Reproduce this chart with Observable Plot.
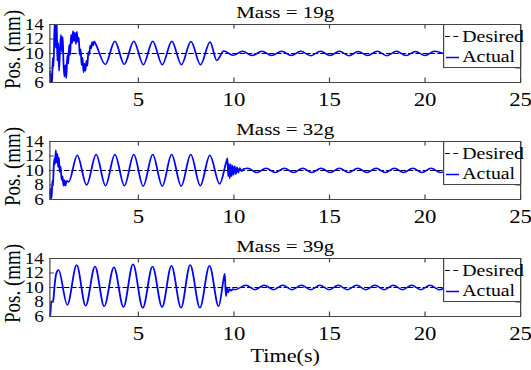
<!DOCTYPE html>
<html><head><meta charset="utf-8">
<script src="https://cdn.jsdelivr.net/npm/d3@7"></script>
<script src="https://cdn.jsdelivr.net/npm/@observablehq/plot@0.6"></script>
<style>
html,body{margin:0;padding:0;background:#fff;}
#chart svg{display:block;}
</style></head><body><div id="chart"></div>
<script>
const titles = ["Mass = 19g", "Mass = 32g", "Mass = 39g"];
const xTicks = [5, 10, 15, 20, 25];
const yTicks = [6, 8, 10, 12, 14];
const legendLabels = ["Desired", "Actual"];
const yLabel = "Pos. (mm)";
const xLabel = "Time(s)";
const desiredTime = [0.37, 21];
const desiredPos = [10, 10];

const time19 = [0.37,0.40,0.44,0.48,0.52,0.56,0.60,0.64,0.68,0.72,0.76,0.80,0.85,0.90,0.95,1.00,1.04,1.08,1.13,1.18,1.23,1.28,1.33,1.38,1.43,1.48,1.53,1.58,1.63,1.68,1.73,1.78,1.83,1.88,1.93,1.98,2.03,2.08,2.13,2.18,2.23,2.28,2.33,2.38,2.43,2.48,2.53,2.58,2.63,2.68,2.75,3.27,3.77,4.26,4.76,5.26,5.75,6.25,6.75,7.25,7.75,8.25,8.75,9.10,9.47,9.95,10.45,10.95,11.47,11.97,12.50,13.00,13.50,14.02,14.53,15.03,15.52,16.02,16.50,17.00,17.50,18.00,18.50,19.00,19.50,20.00,20.50,21.00];
const pos19 = [7.6,5.6,7.2,5.7,9.4,8.2,12.6,14.8,10.8,14.9,9.0,11.5,7.6,10.6,12.6,10.2,12.3,8.8,6.8,8.4,6.6,9.8,8.6,11.2,9.8,12.6,11.4,13.1,11.7,12.9,11.3,13.0,11.6,12.2,9.8,10.6,8.4,9.4,7.4,8.6,7.6,9.0,8.3,10.2,9.8,11.1,10.7,11.6,11.1,11.7,11.4,8.5,11.7,8.5,11.7,8.45,11.7,8.45,11.7,8.45,11.65,8.45,11.6,9.05,10.35,9.75,10.3,9.72,10.32,9.72,10.3,9.72,10.3,9.7,10.3,9.72,10.3,9.7,10.28,9.72,10.3,9.7,10.3,9.72,10.28,9.72,10.3,9.95];

const time32 = [0.37,0.40,0.43,0.46,0.50,0.53,0.57,0.61,0.64,0.68,0.72,0.76,0.80,0.84,0.88,0.93,0.98,1.03,1.08,1.13,1.18,1.25,1.35,1.80,2.29,2.79,3.28,3.77,4.27,4.76,5.25,5.75,6.25,6.74,7.24,7.74,8.24,8.74,9.25,9.60,9.66,9.70,9.74,9.78,9.83,9.88,9.93,9.98,10.04,10.10,10.16,10.23,10.30,10.40,10.50,10.72,11.20,11.68,12.16,12.64,13.12,13.60,14.08,14.56,15.04,15.52,16.00,16.48,16.96,17.44,17.92,18.40,18.88,19.36,19.84,20.32,20.80,21.00];
const pos32 = [7.3,6.0,7.6,6.2,8.6,7.9,10.6,11.7,10.9,12.8,11.1,12.3,10.5,11.8,9.8,10.6,8.7,9.2,7.9,8.7,7.9,8.6,8.4,12.1,8.0,12.2,7.9,12.2,7.9,12.2,7.85,12.2,7.85,12.2,7.85,12.2,7.9,12.1,8.15,11.2,11.7,9.2,10.9,8.9,10.9,9.2,10.7,9.4,10.6,9.5,10.45,9.7,10.35,9.9,10.2,10.3,9.72,10.3,9.72,10.3,9.72,10.3,9.72,10.3,9.72,10.3,9.72,10.3,9.72,10.3,9.72,10.3,9.72,10.3,9.72,10.3,9.72,9.85];

const time39 = [0.37,0.39,0.42,0.45,0.50,0.55,0.62,0.70,0.82,1.28,1.77,2.24,2.73,3.21,3.72,4.22,4.72,5.23,5.74,6.24,6.73,7.23,7.71,8.22,8.72,9.20,9.45,9.52,9.58,9.64,9.70,9.77,9.85,9.95,10.05,10.63,11.10,11.59,12.07,12.55,13.04,13.53,14.02,14.50,14.98,15.46,15.94,16.42,16.90,17.38,17.86,18.34,18.82,19.30,19.78,20.26,20.74,21.00];
const pos39 = [6.3,6.0,7.4,8.1,8.0,8.3,10.4,11.9,12.4,7.6,13.1,7.5,12.9,7.4,12.8,7.3,13.2,7.2,12.9,7.3,13.0,7.2,13.1,7.2,13.0,7.4,11.0,11.9,8.8,10.0,9.3,9.8,9.55,9.8,9.7,10.3,9.7,10.32,9.7,10.3,9.7,10.3,9.7,10.3,9.7,10.3,9.7,10.3,9.7,10.3,9.7,10.3,9.7,10.3,9.7,10.3,9.7,9.9];

const panels = [
  {title: titles[0], time: time19, pos: pos19},
  {title: titles[1], time: time32, pos: pos32},
  {title: titles[2], time: time39, pos: pos39}
];

const SX = 1.2;                 // the source figure is stretched horizontally
const W = 531, innerW = W / SX;
const mL = 49.3 / SX, mR = 11 / SX;
const plotW = innerW - mL - mR;
const plotH = 58;
const serif = "'Liberation Serif', 'Times New Roman', serif";
const axisColor = "#444";
const blue = "#0000ff";
const chart = document.getElementById("chart");

panels.forEach((p, i) => {
  const last = i === panels.length - 1;
  const H = last ? 136 : 117;
  const actual = p.time.map((t, j) => ({t, v: p.pos[j]}));
  const desired = desiredTime.map((t, j) => ({t, v: desiredPos[j]}));
  const top = [yTicks[yTicks.length - 1]];
  const marks = [
    Plot.line(desired, {x: "t", y: "v", stroke: "black", strokeWidth: 1.2, strokeDasharray: "3.5,2.6"}),
    Plot.line(actual, {x: "t", y: "v", stroke: blue, strokeWidth: 1.5, curve: "monotone-x", clip: true}),
    Plot.frame({stroke: axisColor}),
    Plot.tickX(xTicks, {x: d => d, stroke: axisColor, insetBottom: plotH - 4.5}),
    Plot.tickX(xTicks, {x: d => d, stroke: axisColor, insetTop: plotH - 4.5}),
    Plot.tickY(yTicks, {y: d => d, stroke: axisColor, insetRight: plotW - 4}),
    Plot.tickY(yTicks, {y: d => d, stroke: axisColor, insetLeft: plotW - 4}),
    // legend box
    Plot.frame({fill: "white", stroke: axisColor, insetLeft: plotW - 77 / SX, insetBottom: plotH - 43}),
    Plot.ruleY(top, {stroke: "black", strokeWidth: 1.2, strokeDasharray: "4,3", dy: 12,
      insetLeft: 445 / SX - mL, insetRight: (mL + plotW) - 459 / SX}),
    Plot.ruleY(top, {stroke: blue, strokeWidth: 1.5, dy: 33,
      insetLeft: 446 / SX - mL, insetRight: (mL + plotW) - 459 / SX}),
    Plot.text([legendLabels[0]], {text: d => d, frameAnchor: "top-right", textAnchor: "start", lineAnchor: "middle",
      dx: 461.7 / SX - (mL + plotW), dy: 12.5, fontSize: 16.5}),
    Plot.text([legendLabels[1]], {text: d => d, frameAnchor: "top-right", textAnchor: "start", lineAnchor: "middle",
      dx: 461.7 / SX - (mL + plotW), dy: 32.5, fontSize: 16.5}),
    Plot.axisX({ticks: xTicks, anchor: "bottom", tickSize: 0, tickPadding: 10, fontSize: 19, label: null}),
    Plot.axisY({ticks: yTicks, anchor: "left", tickSize: 0, tickPadding: 5, fontSize: 16, label: null}),
    Plot.text([p.title], {text: d => d, frameAnchor: "top", textAnchor: "middle", lineAnchor: "bottom", dy: -7, fontSize: 17.5}),
    Plot.text([yLabel], {text: d => d, frameAnchor: "left", rotate: -90, textAnchor: "middle", lineAnchor: "middle",
      dx: 12.5 / SX - mL, dy: -4, fontSize: 19})
  ];
  if (last) {
    marks.push(Plot.text([xLabel], {text: d => d, frameAnchor: "bottom", textAnchor: "middle", lineAnchor: "bottom", dy: 45, fontSize: 18.5}));
  }
  const svg = Plot.plot({
    width: innerW, height: H,
    marginLeft: mL, marginRight: mR, marginTop: 24, marginBottom: H - 24 - plotH,
    style: {fontFamily: serif, fontSize: "18px", background: "white", color: "black", overflow: "visible"},
    x: {domain: [0.37, 25], label: null},
    y: {domain: [6, 14], label: null},
    marks
  });
  svg.setAttribute("width", W);
  svg.setAttribute("height", H);
  svg.setAttribute("preserveAspectRatio", "none");
  svg.style.width = W + "px";
  svg.style.height = H + "px";
  svg.style.maxWidth = "none";
  chart.append(svg);
});
</script>
</body></html>
